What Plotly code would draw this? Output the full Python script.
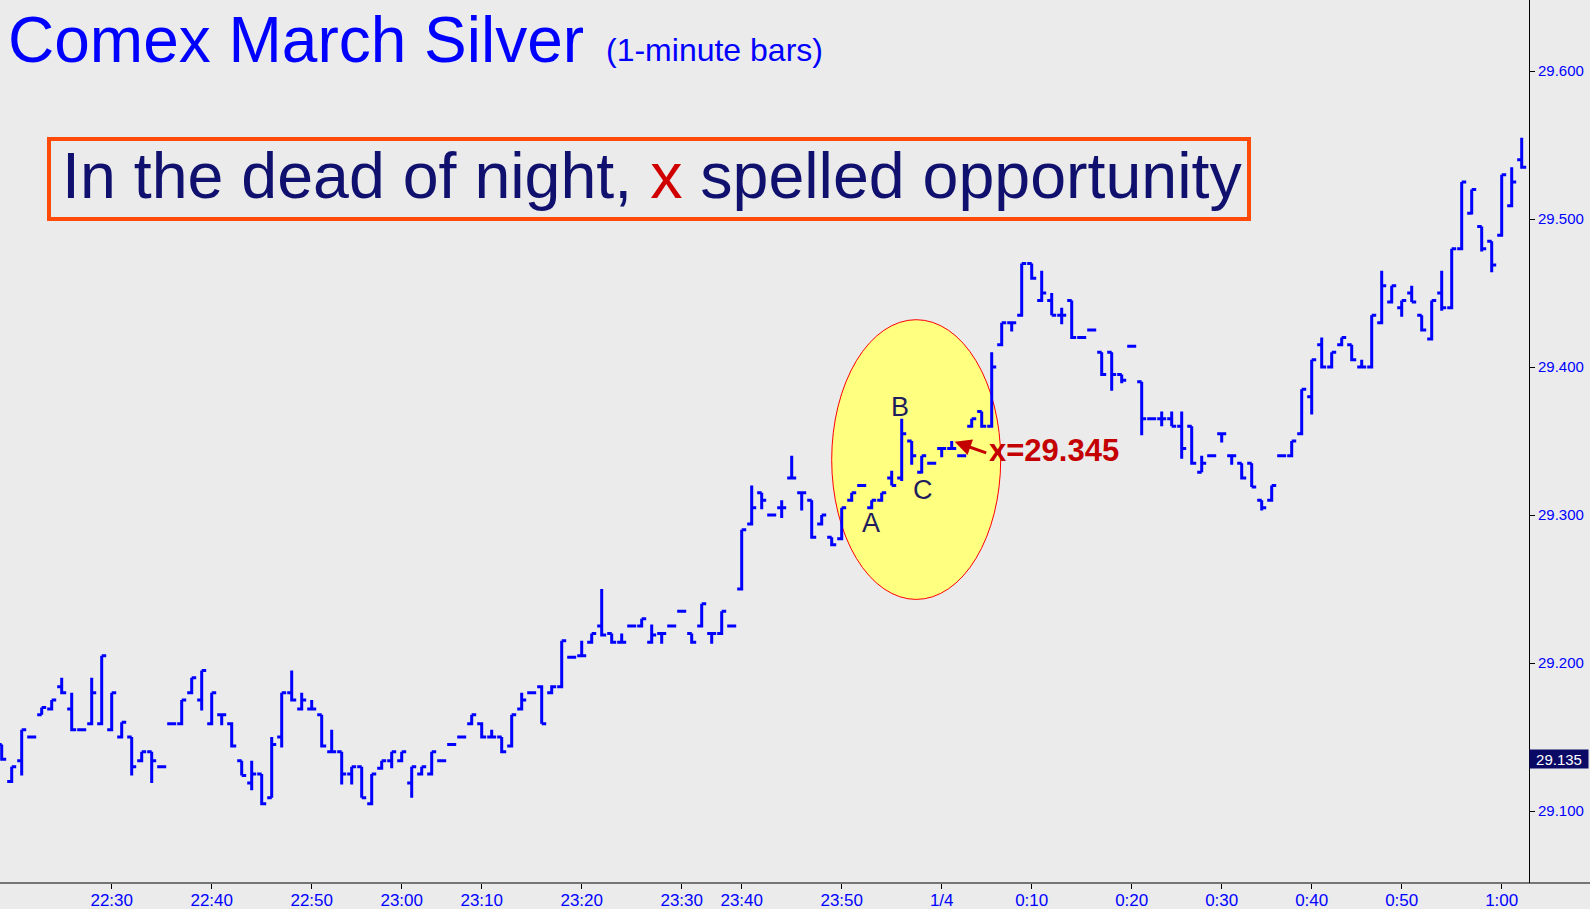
import plotly.graph_objects as go

# ---- data (1-minute bars, consecutive bar index) ----
opens = [29.145, 29.120, 29.134, 29.150, 29.165, 29.169, 29.184, 29.169, 29.155, 29.159,
         29.159, 29.155, 29.150, 29.150, 29.134, 29.140, 29.130, 29.159, 29.159, 29.180,
         29.175, 29.159, 29.165, 29.159, 29.134, 29.119, 29.125, 29.109, 29.150, 29.180,
         29.169, 29.169, 29.165, 29.140, 29.140, 29.125, 29.130, 29.105, 29.129, 29.134,
         29.134, 29.119, 29.125, 29.125, 29.134, 29.145, 29.150, 29.159, 29.159, 29.150,
         29.150, 29.144, 29.169, 29.180, 29.184, 29.180, 29.184, 29.204, 29.205, 29.214,
         29.225, 29.220, 29.214, 29.225, 29.225, 29.214, 29.220, 29.225, 29.235, 29.220,
         29.225, 29.220, 29.220, 29.225, 29.250, 29.294, 29.315, 29.300, 29.305, 29.325,
         29.315, 29.310, 29.294, 29.285, 29.284, 29.310, 29.320, 29.305, 29.310, 29.325,
         29.325, 29.350, 29.329, 29.335, 29.345, 29.345, 29.340, 29.360, 29.370, 29.360,
         29.415, 29.430, 29.435, 29.470, 29.445, 29.445, 29.435, 29.445, 29.420, 29.425,
         29.410, 29.410, 29.395, 29.414, 29.390, 29.365, 29.365, 29.365, 29.360, 29.360,
         29.329, 29.340, 29.355, 29.340, 29.335, 29.335, 29.310, 29.310, 29.340, 29.340,
         29.355, 29.380, 29.415, 29.400, 29.415, 29.415, 29.400, 29.400, 29.430, 29.444,
         29.440, 29.450, 29.435, 29.419, 29.450, 29.440, 29.480, 29.504, 29.495, 29.485,
         29.489, 29.509, 29.540]
highs = [29.145, 29.130, 29.155, 29.151, 29.170, 29.175, 29.190, 29.180, 29.156, 29.190,
         29.205, 29.180, 29.160, 29.150, 29.140, 29.140, 29.131, 29.160, 29.175, 29.190,
         29.195, 29.180, 29.165, 29.160, 29.134, 29.134, 29.125, 29.150, 29.180, 29.195,
         29.180, 29.175, 29.165, 29.155, 29.140, 29.130, 29.130, 29.125, 29.134, 29.140,
         29.140, 29.130, 29.130, 29.140, 29.135, 29.146, 29.151, 29.165, 29.160, 29.155,
         29.150, 29.165, 29.180, 29.181, 29.185, 29.185, 29.215, 29.205, 29.215, 29.220,
         29.250, 29.220, 29.220, 29.226, 29.230, 29.226, 29.220, 29.226, 29.236, 29.220,
         29.240, 29.220, 29.235, 29.226, 29.290, 29.320, 29.315, 29.301, 29.310, 29.340,
         29.315, 29.310, 29.300, 29.285, 29.305, 29.315, 29.321, 29.310, 29.315, 29.330,
         29.365, 29.350, 29.340, 29.336, 29.345, 29.350, 29.341, 29.365, 29.370, 29.410,
         29.430, 29.430, 29.470, 29.470, 29.465, 29.450, 29.440, 29.445, 29.421, 29.426,
         29.410, 29.410, 29.395, 29.415, 29.390, 29.366, 29.370, 29.370, 29.370, 29.360,
         29.340, 29.341, 29.355, 29.340, 29.335, 29.335, 29.310, 29.320, 29.341, 29.350,
         29.385, 29.405, 29.420, 29.410, 29.420, 29.415, 29.405, 29.435, 29.465, 29.455,
         29.445, 29.455, 29.435, 29.445, 29.465, 29.480, 29.525, 29.520, 29.495, 29.485,
         29.530, 29.535, 29.555]
lows = [29.134, 29.119, 29.124, 29.149, 29.165, 29.168, 29.179, 29.154, 29.154, 29.158,
        29.158, 29.154, 29.149, 29.124, 29.133, 29.119, 29.129, 29.158, 29.158, 29.179,
        29.168, 29.158, 29.158, 29.143, 29.124, 29.114, 29.104, 29.109, 29.143, 29.174,
        29.168, 29.168, 29.143, 29.139, 29.118, 29.118, 29.109, 29.104, 29.128, 29.129,
        29.133, 29.109, 29.124, 29.124, 29.133, 29.144, 29.149, 29.158, 29.149, 29.149,
        29.139, 29.143, 29.168, 29.179, 29.159, 29.179, 29.183, 29.203, 29.204, 29.213,
        29.218, 29.213, 29.213, 29.224, 29.224, 29.213, 29.213, 29.224, 29.234, 29.213,
        29.224, 29.213, 29.219, 29.224, 29.249, 29.293, 29.304, 29.299, 29.298, 29.324,
        29.303, 29.284, 29.293, 29.279, 29.283, 29.309, 29.319, 29.304, 29.309, 29.320,
        29.323, 29.334, 29.328, 29.334, 29.339, 29.344, 29.339, 29.359, 29.359, 29.359,
        29.414, 29.424, 29.434, 29.459, 29.444, 29.435, 29.429, 29.419, 29.419, 29.424,
        29.394, 29.384, 29.389, 29.413, 29.354, 29.364, 29.360, 29.360, 29.338, 29.334,
        29.329, 29.339, 29.349, 29.334, 29.324, 29.319, 29.303, 29.309, 29.339, 29.339,
        29.354, 29.368, 29.399, 29.399, 29.414, 29.404, 29.399, 29.399, 29.429, 29.443,
        29.434, 29.444, 29.424, 29.418, 29.438, 29.439, 29.479, 29.503, 29.478, 29.464,
        29.488, 29.508, 29.534]
closes = [29.135, 29.130, 29.155, 29.150, 29.170, 29.175, 29.180, 29.155, 29.155, 29.180,
          29.205, 29.180, 29.160, 29.130, 29.140, 29.134, 29.130, 29.159, 29.175, 29.190,
          29.195, 29.180, 29.165, 29.144, 29.124, 29.125, 29.105, 29.145, 29.180, 29.175,
          29.175, 29.169, 29.144, 29.140, 29.125, 29.130, 29.109, 29.125, 29.134, 29.140,
          29.140, 29.130, 29.130, 29.140, 29.134, 29.145, 29.150, 29.165, 29.150, 29.150,
          29.140, 29.165, 29.175, 29.180, 29.159, 29.184, 29.215, 29.204, 29.205, 29.220,
          29.219, 29.214, 29.214, 29.225, 29.230, 29.219, 29.220, 29.225, 29.235, 29.214,
          29.240, 29.220, 29.235, 29.225, 29.290, 29.305, 29.310, 29.300, 29.305, 29.325,
          29.315, 29.285, 29.300, 29.280, 29.305, 29.315, 29.320, 29.310, 29.315, 29.320,
          29.355, 29.340, 29.340, 29.335, 29.345, 29.345, 29.340, 29.365, 29.360, 29.400,
          29.430, 29.430, 29.470, 29.460, 29.450, 29.435, 29.435, 29.420, 29.420, 29.425,
          29.395, 29.395, 29.391, 29.414, 29.365, 29.365, 29.365, 29.360, 29.345, 29.335,
          29.335, 29.340, 29.355, 29.340, 29.325, 29.319, 29.305, 29.320, 29.340, 29.350,
          29.385, 29.405, 29.400, 29.410, 29.420, 29.405, 29.400, 29.435, 29.455, 29.455,
          29.445, 29.444, 29.425, 29.445, 29.440, 29.480, 29.525, 29.520, 29.480, 29.469,
          29.530, 29.525, 29.535]

tick_idx = [11, 21, 31, 40, 48, 58, 68, 74, 84, 94, 103, 113, 122, 131, 140, 150]
tick_text = ["22:30", "22:40", "22:50", "23:00", "23:10", "23:20", "23:30", "23:40",
             "23:50", "1/4", "0:10", "0:20", "0:30", "0:40", "0:50", "1:00"]
price_ticks = [29.1, 29.2, 29.3, 29.4, 29.5, 29.6]
last_price = 29.135
x_level = 29.345

bar_idx = list(range(len(opens)))

BG = "#EBEBEB"
BLUE = "#0000FF"
NAVY = "#10106E"
RED = "#C40000"

fig = go.Figure()
fig.add_trace(go.Ohlc(
    x=bar_idx, open=opens, high=highs, low=lows, close=closes,
    increasing=dict(line=dict(color=BLUE, width=3)),
    decreasing=dict(line=dict(color=BLUE, width=3)),
    tickwidth=0.45, hoverinfo="skip", showlegend=False,
))

W, H = 1590, 909
L, R, T, B = 0, 61, 0, 26
PW, PH = W - L - R, H - T - B

def px(x):
    return x / PW

def py(y):
    return 1 - y / PH

shapes = [
    # yellow ellipse (below bars)
    dict(type="circle", xref="x", yref="y", x0=83.0, x1=99.9, y0=29.243, y1=29.432,
         fillcolor="#FFFF80", line=dict(color="#FF0000", width=1), layer="below"),
    # headline box
    dict(type="rect", xref="paper", yref="paper", x0=px(49), x1=px(1249), y0=py(219), y1=py(139),
         line=dict(color="#FF4A0A", width=4), fillcolor="rgba(0,0,0,0)"),
    # bottom axis line extended to the right edge
    dict(type="line", xref="paper", yref="paper", x0=0, x1=W / PW, y0=0, y1=0,
         line=dict(color="black", width=1)),
]

annotations = [
    dict(xref="paper", yref="paper", x=px(6), y=py(40), xanchor="left", yanchor="middle",
         text="Comex March Silver", showarrow=False,
         font=dict(family="Liberation Sans, Arial", size=64, color=BLUE)),
    dict(xref="paper", yref="paper", x=px(604), y=py(50), xanchor="left", yanchor="middle",
         text="(1-minute bars)", showarrow=False,
         font=dict(family="Liberation Sans, Arial", size=32, color=BLUE)),
    dict(xref="paper", yref="paper", x=px(60), y=py(176), xanchor="left", yanchor="middle",
         text="In the dead of night, <span style='color:#D00000'>x</span> spelled opportunity",
         showarrow=False,
         font=dict(family="Liberation Sans, Arial", size=64.5, color=NAVY)),
    dict(xref="x", yref="y", x=86.9, y=29.2946, text="A", showarrow=False,
         font=dict(family="Liberation Sans, Arial", size=27, color="#1E1E5E")),
    dict(xref="x", yref="y", x=89.8, y=29.373, text="B", showarrow=False,
         font=dict(family="Liberation Sans, Arial", size=27, color="#1E1E5E")),
    dict(xref="x", yref="y", x=92.1, y=29.317, text="C", showarrow=False,
         font=dict(family="Liberation Sans, Arial", size=27, color="#1E1E5E")),
    dict(xref="x", yref="y", x=98.5, y=x_level - 0.0015, xanchor="left", yanchor="middle",
         text="x=" + f"{x_level:.3f}", showarrow=False,
         font=dict(family="Liberation Sans, Arial", size=31, color=RED, weight="bold")),
    dict(xref="x", yref="y", x=95.3, y=29.3495, axref="x", ayref="y", ax=98.6, ay=29.3417,
         text="", showarrow=True, arrowhead=2, arrowsize=1.1, arrowwidth=3, arrowcolor=RED,
         standoff=0, startstandoff=0),
    dict(xref="paper", yref="y", x=1.0, y=last_price, xanchor="left", yanchor="middle",
         text=f"{last_price:.3f}", showarrow=False, bgcolor="#0A0A66", width=56, height=16,
         borderpad=1, align="center",
         font=dict(family="Liberation Sans, Arial", size=15, color="#FFFFFF")),
]

fig.update_layout(
    width=W, height=H,
    margin=dict(l=L, r=R, t=T, b=B, pad=0),
    paper_bgcolor=BG, plot_bgcolor=BG,
    showlegend=False,
    shapes=shapes, annotations=annotations,
    xaxis=dict(
        range=[-0.17, 152.73], rangeslider=dict(visible=False),
        tickmode="array", tickvals=tick_idx, ticktext=tick_text,
        ticks="outside", ticklen=5, tickcolor="black", tickwidth=1,
        showgrid=False, zeroline=False, showline=False,
        tickfont=dict(family="Liberation Sans, Arial", size=17, color=BLUE),
        ticklabelstandoff=-3,
        automargin=False,
    ),
    yaxis=dict(
        side="right", range=[29.0514, 29.648],
        tickmode="array", tickvals=price_ticks, ticktext=[f"{v:.3f}" for v in price_ticks],
        ticks="outside", ticklen=5, tickcolor="black", tickwidth=1,
        showgrid=False, zeroline=False, showline=True, linecolor="black", linewidth=1,
        tickfont=dict(family="Liberation Sans, Arial", size=15, color=BLUE),
        automargin=False,
    ),
)

fig.write_html(
    "out.html",
    config={"displayModeBar": False},
    post_script="document.body.style.margin='0';document.body.style.padding='0';"
                "document.body.style.overflow='hidden';"
                "document.body.style.background='" + BG + "';",
)
